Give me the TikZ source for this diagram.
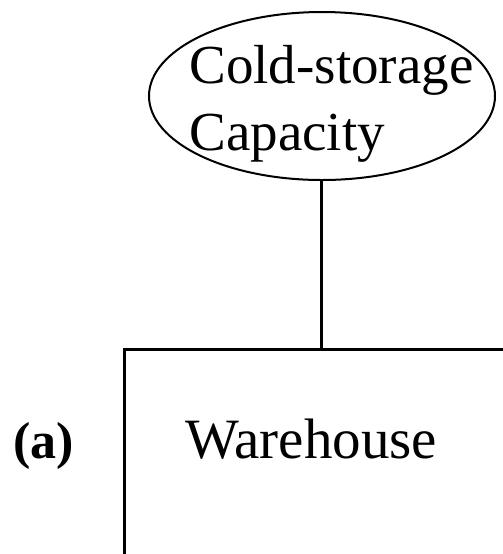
\documentclass[tikz,border=0pt]{standalone}
\usepackage{fontspec}
\setmainfont{Liberation Serif}
\usetikzlibrary{shapes.geometric,positioning}
\tikzstyle{attrib} = [draw, ellipse, line width=1pt, minimum width=173pt,
  minimum height=84pt, inner sep=0pt]
\tikzstyle{entity} = [draw, rectangle, line width=1.5pt, minimum width=450pt,
  minimum height=200pt, anchor=north west]
\tikzstyle{texto} = [inner sep=0pt, font=\fontsize{27.5}{33.5}\selectfont]
\tikzstyle{line} = [draw, line width=1.5pt]
\begin{document}
\begin{tikzpicture}[x=0.5pt,y=-0.5pt]
  \useasboundingbox (0,0) rectangle (503,554);
  \clip (0,0) rectangle (503,554);

  % Attribute
  \node (capacity) [attrib] at (322,96) {};
  \node (capacitytext) [texto, align=left, anchor=north west] at (189,45)
    {Cold-storage\\Capacity};

  % Entity
  \node (warehouse) [entity] at (123,348) {};
  \node (warehousetext) [texto, font=\fontsize{28.5}{33.5}\selectfont,
    anchor=base west] at (185,458) {Warehouse};
  \node (tag) [texto, font=\fontsize{26}{30}\bfseries, anchor=base west]
    at (13,458) {(a)};

  % Draw link
  \path [line] (capacity.south) -- (capacity.south |- warehouse.north);

\end{tikzpicture}
\end{document}
